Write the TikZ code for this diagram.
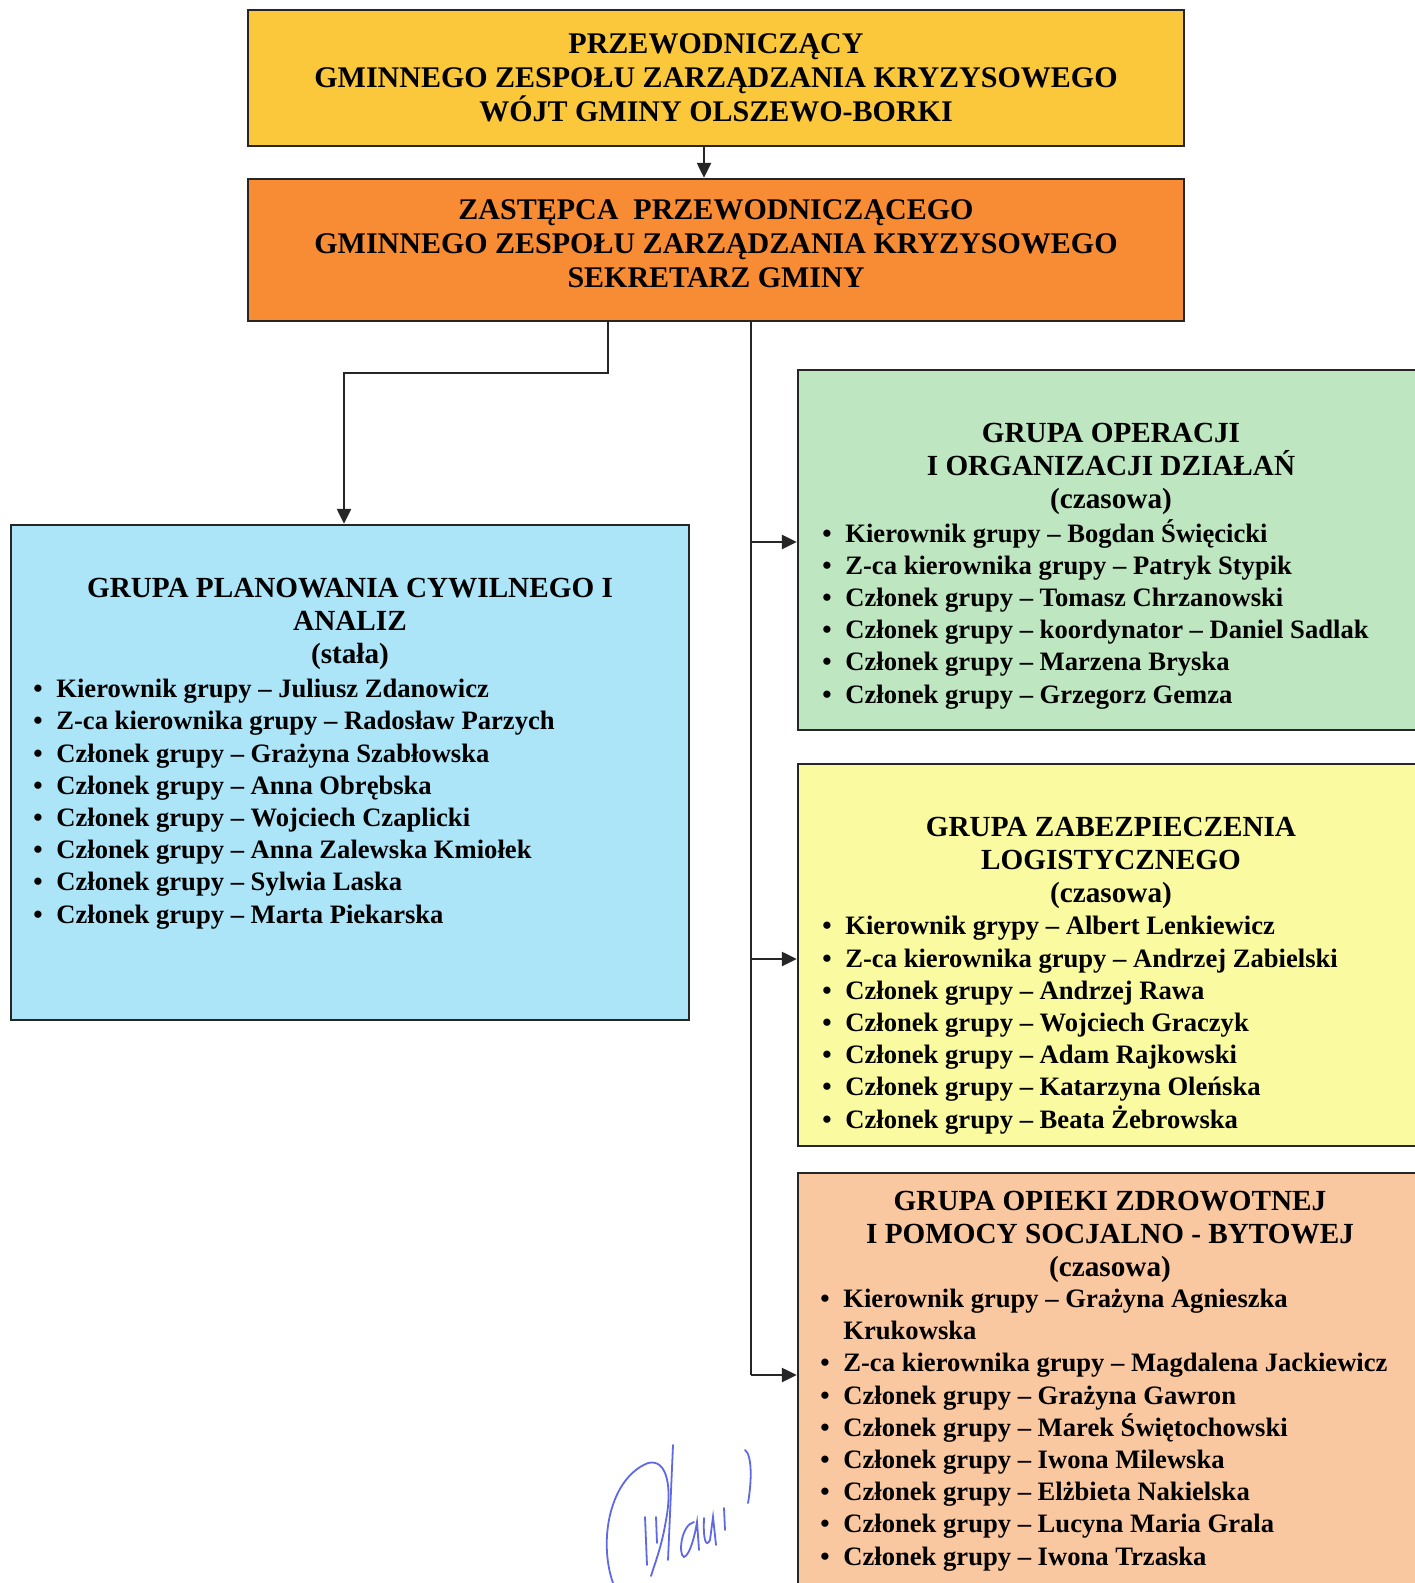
\documentclass[tikz,border=0pt]{standalone}
\usepackage{fontspec}
\setmainfont{Liberation Serif}
\usepackage{xcolor}
\usepackage{tikz}
\usetikzlibrary{arrows.meta}

\definecolor{zolty}{RGB}{250,200,58}
\definecolor{pomar}{RGB}{247,140,52}
\definecolor{niebieski}{RGB}{172,228,248}
\definecolor{zielony}{RGB}{190,230,192}
\definecolor{jasnyzolty}{RGB}{250,250,160}
\definecolor{brzoskwinia}{RGB}{250,200,160}
\definecolor{podpis}{RGB}{95,105,230}
\newcommand{\pkt}{\makebox[11.5pt][l]{•}}

\begin{document}
\begin{tikzpicture}[x=0.5pt,y=-0.5pt,
  box/.style={draw=black!85,line width=1.2pt,inner sep=0pt},
  szef/.style={box,align=center,font=\fontsize{15}{17}\selectfont\bfseries},
  naglowek/.style={align=center,anchor=base,inner sep=0pt,font=\fontsize{14.6}{16.5}\selectfont\bfseries},
  lista/.style={align=left,anchor=base west,inner sep=0pt,font=\fontsize{13.3}{16.1}\selectfont\bfseries},
  linia/.style={line width=1.2pt,black!85},
  strz/.style={linia,-{Triangle[length=7.5pt,width=7pt]}}]
\useasboundingbox (0,0) rectangle (1414,1583);
\fill[white] (0,0) rectangle (1414,1583);

\node[szef,fill=zolty,minimum width=468pt,minimum height=68pt] (wojt) at (716,78)
  {PRZEWODNICZĄCY\\GMINNEGO ZESPOŁU ZARZĄDZANIA KRYZYSOWEGO\\WÓJT GMINY OLSZEWO-BORKI};
\node[szef,fill=pomar,minimum width=468pt,minimum height=71pt,text depth=6pt] (sekretarz) at (716,250)
  {ZASTĘPCA\ \ PRZEWODNICZĄCEGO\\GMINNEGO ZESPOŁU ZARZĄDZANIA KRYZYSOWEGO\\SEKRETARZ GMINY};

\node[box,fill=niebieski,minimum width=339pt,minimum height=247.5pt] (planowanie) at (350,772.5) {};
\node[box,fill=zielony,minimum width=313pt,minimum height=180pt] (operacje) at (1111,550) {};
\node[box,fill=jasnyzolty,minimum width=313pt,minimum height=191pt] (logistyka) at (1111,955) {};
\node[box,fill=brzoskwinia,minimum width=313pt,minimum height=213.5pt] (opieka) at (1111,1386.5) {};

\node[naglowek] (planowanieN) at (350,663) {GRUPA PLANOWANIA CYWILNEGO I\\ANALIZ\\(stała)};
\node[lista] (planowanieL) at (33,923) {\pkt Kierownik grupy – Juliusz Zdanowicz\\
  \pkt Z-ca kierownika grupy – Radosław Parzych\\
  \pkt Członek grupy – Grażyna Szabłowska\\
  \pkt Członek grupy – Anna Obrębska\\
  \pkt Członek grupy – Wojciech Czaplicki\\
  \pkt Członek grupy – Anna Zalewska Kmiołek\\
  \pkt Członek grupy – Sylwia Laska\\
  \pkt Członek grupy – Marta Piekarska};

\node[naglowek] (operacjeN) at (1111,508) {GRUPA OPERACJI\\I ORGANIZACJI DZIAŁAŃ\\(czasowa)};
\node[lista] (operacjeL) at (822,703) {\pkt Kierownik grupy – Bogdan Święcicki\\
  \pkt Z-ca kierownika grupy – Patryk Stypik\\
  \pkt Członek grupy – Tomasz Chrzanowski\\
  \pkt Członek grupy – koordynator – Daniel Sadlak\\
  \pkt Członek grupy – Marzena Bryska\\
  \pkt Członek grupy – Grzegorz Gemza};

\node[naglowek] (logistykaN) at (1111,902) {GRUPA ZABEZPIECZENIA\\LOGISTYCZNEGO\\(czasowa)};
\node[lista] (logistykaL) at (822,1128) {\pkt Kierownik grypy – Albert Lenkiewicz\\
  \pkt Z-ca kierownika grupy – Andrzej Zabielski\\
  \pkt Członek grupy – Andrzej Rawa\\
  \pkt Członek grupy – Wojciech Graczyk\\
  \pkt Członek grupy – Adam Rajkowski\\
  \pkt Członek grupy – Katarzyna Oleńska\\
  \pkt Członek grupy – Beata Żebrowska};

\node[naglowek] (opiekaN) at (1110,1276) {GRUPA OPIEKI ZDROWOTNEJ\\I POMOCY SOCJALNO - BYTOWEJ\\(czasowa)};
\node[lista] (opiekaL) at (820,1565) {\pkt Kierownik grupy – Grażyna Agnieszka\\
  \makebox[11.5pt]{}Krukowska\\
  \pkt Z-ca kierownika grupy – Magdalena Jackiewicz\\
  \pkt Członek grupy – Grażyna Gawron\\
  \pkt Członek grupy – Marek Świętochowski\\
  \pkt Członek grupy – Iwona Milewska\\
  \pkt Członek grupy – Elżbieta Nakielska\\
  \pkt Członek grupy – Lucyna Maria Grala\\
  \pkt Członek grupy – Iwona Trzaska};

\draw[strz] ([xshift=-6pt]wojt.south) -- ([xshift=-6pt]sekretarz.north);
\draw[strz] ([xshift=-54pt]sekretarz.south) -- ++(0,51) -| ([xshift=-3pt]planowanie.north);

\coordinate (szyna) at ([xshift=17.5pt]sekretarz.south);
\coordinate (wejscie1) at ([yshift=4pt]operacje.west);
\coordinate (wejscie2) at ([yshift=-2pt]logistyka.west);
\coordinate (wejscie3) at ([yshift=5.75pt]opieka.west);
\draw[linia] (szyna) -- (szyna |- wejscie3);
\draw[strz] (szyna |- wejscie1) -- (wejscie1);
\draw[strz] (szyna |- wejscie2) -- (wejscie2);
\draw[strz] (szyna |- wejscie3) -- (wejscie3);

\draw[podpis,line width=0.9pt,line cap=round]
  (613,1583) .. controls (598,1540) and (610,1478) .. (648,1463)
  .. controls (668,1458) and (672,1490) .. (666,1520)
  .. controls (662,1545) and (656,1560) .. (651,1576);
\draw[podpis,line width=0.9pt,line cap=round] (673,1445) -- (668,1560);
\draw[podpis,line width=0.9pt,line cap=round] (645,1517) -- (647,1565);
\draw[podpis,line width=0.9pt,line cap=round] (656,1517) -- (657,1543);
\draw[podpis,line width=0.9pt,line cap=round]
  (694,1522) .. controls (681,1525) and (678,1555) .. (684,1557)
  .. controls (690,1555) and (695,1535) .. (697,1522) -- (699,1550);
\draw[podpis,line width=0.9pt,line cap=round]
  (704,1518) .. controls (703,1540) and (706,1548) .. (710,1540) -- (713,1517) -- (716,1545);
\draw[podpis,line width=0.9pt,line cap=round] (724,1508) -- (725,1530);
\draw[podpis,line width=0.9pt,line cap=round]
  (745,1450) .. controls (752,1455) and (752,1480) .. (748,1503);
\end{tikzpicture}
\end{document}
